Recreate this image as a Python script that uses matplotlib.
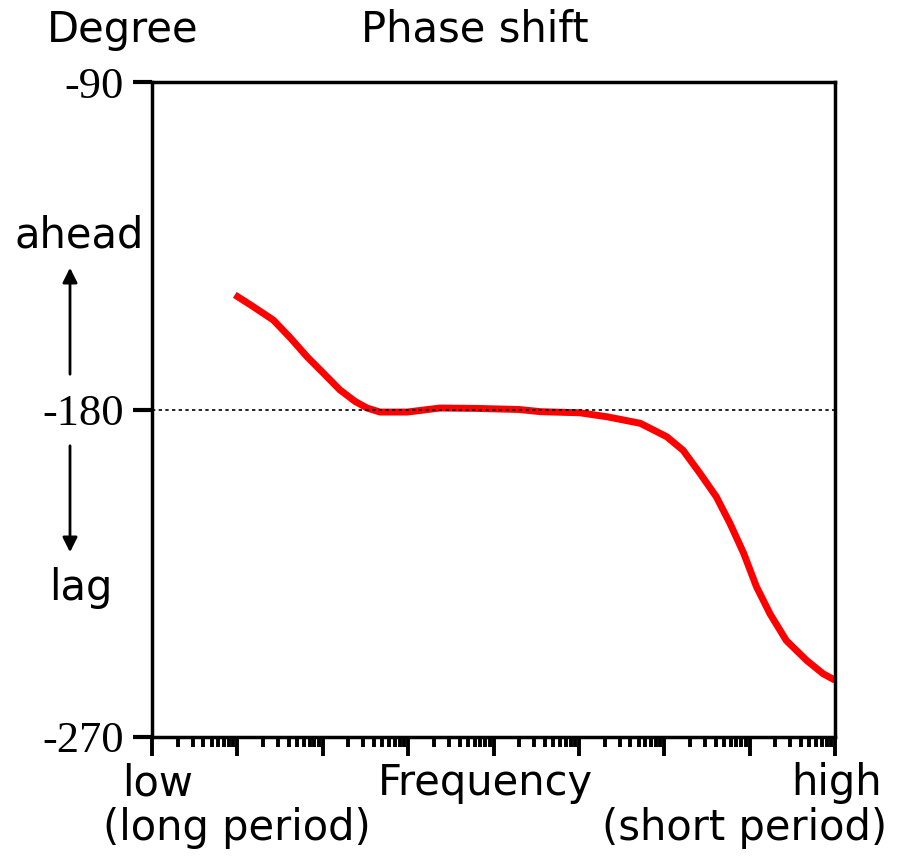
import numpy as np
import matplotlib.pyplot as plt
from matplotlib.ticker import LogLocator, NullFormatter

# phase curve (frequency in decades from the left edge, phase in degrees)
freq_decades = [0.97, 1.17, 1.42, 1.62, 1.82, 2.02, 2.2, 2.38, 2.52, 2.67, 2.99, 3.37, 3.8,
                4.3, 4.55, 5.01, 5.33, 5.72, 6.03, 6.22, 6.42, 6.61, 6.77, 6.93, 7.08, 7.24,
                7.43, 7.67, 7.86, 8.0]
phase_deg = [-148.5, -151.5, -155.4, -160.3, -165.6, -170.3, -174.6, -177.8, -179.6, -180.7,
             -180.7, -179.6, -179.7, -180.0, -180.6, -180.9, -182.0, -183.8, -187.5, -191.2,
             -197.6, -204.0, -211.3, -219.5, -228.7, -236.2, -243.5, -249.0, -252.6, -254.4]
y_ticks = [-90, -180, -270]
y_labels = ['-90', '-180', '-270']

W, H = 914, 857
fig = plt.figure(figsize=(W / 100, H / 100), dpi=100)
ax = fig.add_axes([152 / W, 1 - 737 / H, (835 - 152) / W, (737 - 82) / H])

freq = 10 ** np.array(freq_decades)
ax.plot(freq, phase_deg, color='#ff0000', lw=5, solid_capstyle='butt', solid_joinstyle='round')
ax.axhline(-180, color='black', lw=1.2, ls=(0, (2, 2)))

ax.set_xscale('log')
ax.set_xlim(1, 1e8)
ax.set_ylim(-270, -90)
ax.xaxis.set_major_locator(LogLocator(base=10, numticks=20))
ax.xaxis.set_minor_locator(LogLocator(base=10, subs=np.arange(2, 10), numticks=20))
ax.xaxis.set_major_formatter(NullFormatter())
ax.xaxis.set_minor_formatter(NullFormatter())
ax.tick_params(axis='x', which='major', direction='out', length=14, width=2.8)
ax.tick_params(axis='x', which='minor', direction='out', length=7, width=2.8)

ax.set_yticks(y_ticks)
ax.set_yticklabels(y_labels, family='Liberation Serif', fontsize=32)
ax.tick_params(axis='y', direction='out', length=14, width=3, pad=6)

for s in ax.spines.values():
    s.set_linewidth(2.5)

def ftext(px, py, s, **kw):
    fig.text(px / W, 1 - py / H, s, ha='center', va='center', fontsize=30,
             family='DejaVu Sans', **kw)

ftext(123, 30, 'Degree')
ftext(475, 30, 'Phase shift')
ftext(79, 235, 'ahead')
ftext(81, 588, 'lag')
ftext(158, 783, 'low')
ftext(237, 828, '(long period)')
ftext(485, 783, 'Frequency')
ftext(837, 783, 'high')
ftext(745, 828, '(short period)')

# ahead / lag arrows
arrow = dict(arrowstyle='-|>', color='black', lw=2, mutation_scale=22)
fig.add_artist(plt.Annotation('', xy=(70 / W, 1 - 265 / H), xytext=(70 / W, 1 - 377 / H),
                              xycoords='figure fraction', arrowprops=arrow))
fig.add_artist(plt.Annotation('', xy=(70 / W, 1 - 555 / H), xytext=(70 / W, 1 - 443 / H),
                              xycoords='figure fraction', arrowprops=arrow))

fig.savefig('out.png', dpi=100)
